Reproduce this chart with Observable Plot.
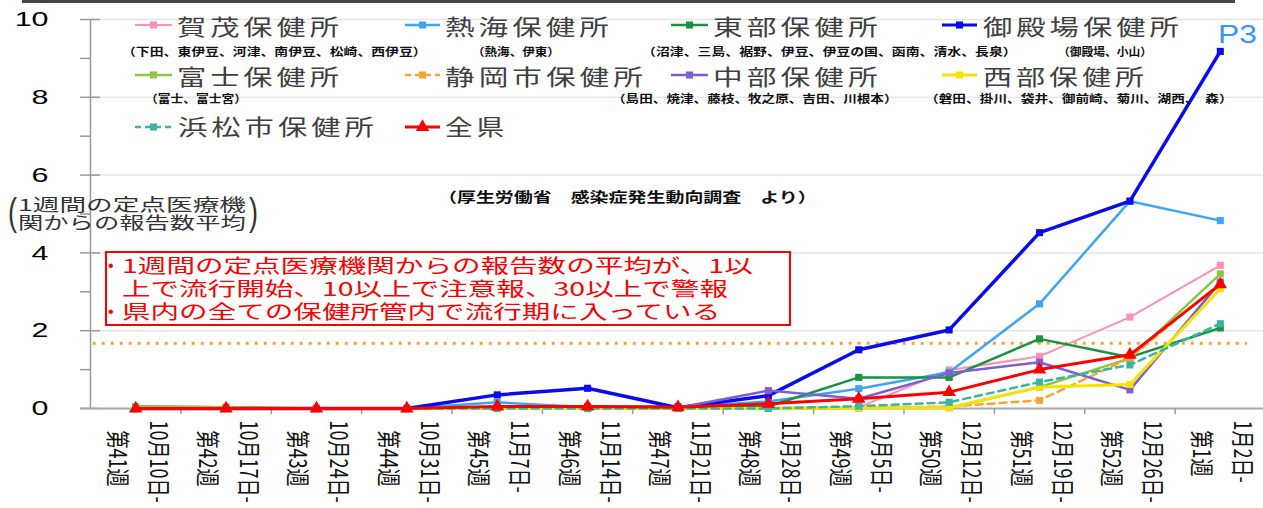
<!DOCTYPE html>
<html><head><meta charset="utf-8">
<script src="https://cdn.jsdelivr.net/npm/d3@7"></script>
<script src="https://cdn.jsdelivr.net/npm/@observablehq/plot@0.6"></script>
<style>
html,body{margin:0;padding:0;background:#fff;}
#chart{width:1263px;height:508px;overflow:hidden;position:relative;background:#fff;}
</style>
</head><body><div id="chart"></div>
<script>
// ---- data ----
const weeks = ["第41週","第42週","第43週","第44週","第45週","第46週","第47週","第48週","第49週","第50週","第51週","第52週","第1週"];
const dates = ["10月10日-","10月17日-","10月24日-","10月31日-","11月7日-","11月14日-","11月21日-","11月28日-","12月5日-","12月12日-","12月19日-","12月26日-","1月2日-"];
const names = ["賀茂保健所","熱海保健所","東部保健所","御殿場保健所","富士保健所","静岡市保健所","中部保健所","西部保健所","浜松市保健所","全県"];
const subs = ["（下田、東伊豆、河津、南伊豆、松崎、西伊豆）","（熱海、伊東）","（沼津、三島、裾野、伊豆、伊豆の国、函南、清水、長泉）","（御殿場、小山）","（富士、富士宮）","","（島田、焼津、藤枝、牧之原、吉田、川根本）","（磐田、掛川、袋井、御前崎、菊川、湖西、　森）","",""];
const kamo      = [0, 0, 0, 0, 0, 0, 0, 0.02, 0.03, 0.99, 1.34, 2.35, 3.68];
const atami     = [0, 0, 0, 0, 0.16, 0.03, 0.03, 0.18, 0.51, 0.93, 2.69, 5.33, 4.83];
const tobu      = [0.05, 0.03, 0, 0, 0.03, 0.05, 0.05, 0.05, 0.8, 0.8, 1.79, 1.32, 2.07];
const gotemba   = [0, 0, 0, 0, 0.35, 0.52, 0.02, 0.33, 1.51, 2.02, 4.52, 5.33, 9.18];
const fuji      = [0.05, 0.03, 0, 0, 0, 0, 0, 0, 0.01, 0.02, 0.55, 1.29, 3.46];
const shizuoka  = [0, 0, 0, 0, 0, 0, 0, 0, 0.02, 0.05, 0.21, 1.3, 3.22];
const chubu     = [0, 0, 0, 0, 0.03, 0.03, 0.02, 0.46, 0.25, 0.91, 1.19, 0.48, 3.25];
const seibu     = [0, 0, 0, 0, 0, 0, 0, 0, 0.02, 0.02, 0.55, 0.62, 3.08];
const hamamatsu = [0, 0, 0, 0, 0, 0, 0, 0, 0.06, 0.16, 0.68, 1.12, 2.18];
const zenken    = [0, 0, 0, 0, 0.05, 0.05, 0.03, 0.12, 0.25, 0.42, 1.0, 1.38, 3.19];
const threshold = [1.68];
const yTicks = [0,1,2,3,4,5,6,7,8,9,10];
const yLabels = [0,2,4,6,8,10];
const endLabel = "P3";
const sourceNote = "（厚生労働省　感染症発生動向調査　より）";
const yTitle = ["1週間の定点医療機", "関からの報告数平均"];
const noteLines = ["1週間の定点医療機関からの報告数の平均が、1以", "上で流行開始、10以上で注意報、30以上で警報", "県内の全ての保健所管内で流行期に入っている"];

// ---- styles ----
const values = [kamo, atami, tobu, gotemba, fuji, shizuoka, chubu, seibu, hamamatsu, zenken];
const colors = ["#ff8fb4", "#3da5f4", "#18933f", "#0a0af0", "#8dc63f", "#f7a530", "#7d5fd0", "#f5e400", "#3bb4a4", "#ff0000"];
const dashes = [undefined, undefined, undefined, undefined, undefined, "7,5", undefined, undefined, "7,5", undefined];
const widths = [2, 2.5, 2.5, 3.5, 2.5, 2.5, 2.5, 3, 2.5, 3];
const symbols = ["square","square","square","square","square","square","square","square","square","triangle"];
const radii = [4,4,4,4,4,4,4,4,4,5];

const table = values.flatMap((vals, k) => vals.map((v, i) => ({k, i, v})));
const idx = d3.range(weeks.length);

const marks = [
  Plot.ruleY(yLabels.filter(d => d > 0), {y: d => d, stroke: "#e6e6e6", strokeWidth: 1.5}),
  Plot.ruleY(threshold, {y: d => d, x1: 0.03, x2: 12.8, stroke: "#f7a530", strokeWidth: 3, strokeDasharray: "3,6"}),
  Plot.ruleX([0], {y1: 0, y2: 10, stroke: "#999", strokeWidth: 1.5}),
  Plot.ruleY(yTicks, {y: d => d, x1: -0.11, x2: 0, stroke: "#999", strokeWidth: 1.5}),
  Plot.ruleY(yLabels, {y: d => d, x1: 0, x2: 0.11, stroke: "#999", strokeWidth: 1.5}),
  Plot.ruleY([0], {y: d => d, x1: -0.11, x2: 13, stroke: "#a8a8a8", strokeWidth: 2}),
  Plot.ruleX(d3.range(1, 13), {x: d => d, y1: 0, y2: -0.16, stroke: "#999", strokeWidth: 1.5}),
  Plot.text(yLabels, {y: d => d, text: d => String(d), frameAnchor: "left", dx: -42, textAnchor: "end", fontSize: 21, fill: "#000", fontFamily: "Liberation Sans"}),
  Plot.text(idx, {x: i => i + 0.5, text: i => dates[i], frameAnchor: "bottom", rotate: 90, textAnchor: "start", dx: 14, dy: 12, fontSize: 18, fill: "#111", fontFamily: "Noto Sans CJK JP"}),
  Plot.text(idx, {x: i => i + 0.5, text: i => weeks[i], frameAnchor: "bottom", rotate: 90, textAnchor: "start", dx: -27, dy: 22, fontSize: 18, fill: "#111", fontFamily: "Noto Sans CJK JP"})
];
values.forEach((vals, k) => {
  const rows = table.filter(d => d.k === k);
  marks.push(Plot.line(rows, {x: d => d.i + 0.5, y: "v", stroke: colors[k], strokeWidth: widths[k], strokeDasharray: dashes[k]}));
  marks.push(Plot.dot(rows, {x: d => d.i + 0.5, y: "v", symbol: symbols[k], r: radii[k], fill: colors[k], stroke: "none"}));
});

const chart = Plot.plot({
  width: 1263, height: 508,
  marginLeft: 90, marginRight: 0, marginTop: 19, marginBottom: 100,
  x: {domain: [0, 13], range: [90, 1265], axis: null},
  y: {domain: [0, 10], range: [408, 19], axis: null},
  style: {fontFamily: "'Noto Sans CJK JP', sans-serif", background: "#fff", overflow: "visible"},
  marks
});
document.getElementById("chart").appendChild(chart);

// stretch axis texts horizontally like the reference
function stretch(el, sx, sy) {
  const tr = el.getAttribute("transform");
  if (tr) el.setAttribute("transform", tr + ` scale(${sx},${sy})`);
  else {
    const x = +el.getAttribute("x") || 0, y = +el.getAttribute("y") || 0;
    el.setAttribute("transform", `translate(${x},${y}) scale(${sx},${sy}) translate(${-x},${-y})`);
  }
}
const svg = d3.select(chart);
svg.selectAll("g").filter(function(){ return (this.getAttribute("font-family")||"").includes("Liberation"); })
  .selectAll("text").each(function(){ stretch(this, 1.45, 1); });
svg.selectAll("g").filter(function(){ return (this.getAttribute("font-family")||"").includes("Noto Sans CJK"); })
  .selectAll("text").each(function(){ stretch(this, 1, 1.35); });

// ---- annotations / legend ----
const ov = svg.append("g").attr("font-family", "'Noto Sans CJK JP', sans-serif").attr("text-anchor", "start");
ov.append("rect").attr("x", 22).attr("y", 0).attr("width", 1213).attr("height", 3).attr("fill", "#444");
function fit(str, x, y, w, o = {}) {
  const t = ov.append("text").attr("font-size", o.size || 20).attr("fill", o.fill || "#333")
    .attr("font-weight", o.weight || 400).attr("text-anchor", "start").text(str);
  if (o.ls) t.attr("letter-spacing", o.ls);
  if (o.family) t.attr("font-family", o.family);
  let sx = o.sx;
  if (sx == null) { const L = t.node().getComputedTextLength(); sx = w / L; }
  t.attr("transform", `translate(${x},${y}) scale(${sx},1)`);
  return sx;
}
const legendPos = [
  {m: [135,172], tx: 177, tw: 166, row: 0, sx: 122, sw: 305},
  {m: [405,440], tx: 445, tw: 168, row: 0, sx: 472, sw: 88},
  {m: [671,708], tx: 713, tw: 169, row: 0, sx: 642, sw: 375},
  {m: [942,977], tx: 983, tw: 200, row: 0, sx: 1058, sw: 94},
  {m: [135,172], tx: 177, tw: 166, row: 1, sx: 145, sw: 102},
  {m: [405,440], tx: 445, tw: 202, row: 1},
  {m: [671,708], tx: 713, tw: 169, row: 1, sx: 612, sw: 286},
  {m: [942,977], tx: 983, tw: 165, row: 1, sx: 925, sw: 308},
  {m: [135,172], tx: 178, tw: 200, row: 2},
  {m: [405,440], tx: 445, tw: 63, row: 2}
];
const rowMarkY = [25, 75, 127], rowTextY = [35, 85, 135], rowSubY = [56, 103];
legendPos.forEach((p, k) => {
  const y = rowMarkY[p.row];
  ov.append("line").attr("x1", p.m[0]).attr("x2", p.m[1]).attr("y1", y).attr("y2", y)
    .attr("stroke", colors[k]).attr("stroke-width", Math.min(widths[k], 3)).attr("stroke-dasharray", dashes[k] ? "6,4" : null);
  const sym = symbols[k] === "triangle" ? d3.symbolTriangle : d3.symbolSquare;
  ov.append("path").attr("d", d3.symbol(sym, radii[k] * radii[k] * Math.PI)())
    .attr("transform", `translate(${(p.m[0] + p.m[1]) / 2},${y})`).attr("fill", colors[k]);
  fit(names[k], p.tx, rowTextY[p.row], p.tw, {size: 22, fill: "#404040", ls: 3});
  if (subs[k]) fit(subs[k], p.sx, rowSubY[p.row], p.sw, {size: 11, fill: "#111", weight: 700});
});

// source note
fit(sourceNote, 438, 202, 379, {size: 14, fill: "#111", weight: 700});
// y title with brackets
fit(yTitle[0], 18, 211, 228, {size: 16.5, fill: "#333"});
fit(yTitle[1], 18, 229, 228, {size: 16.5, fill: "#333"});
fit("(", 8, 225, 9, {size: 38, fill: "#333", family: "Liberation Sans"});
fit(")", 249, 225, 9, {size: 38, fill: "#333", family: "Liberation Sans"});
// red note box
ov.append("rect").attr("x", 106).attr("y", 252).attr("width", 684).attr("height", 73)
  .attr("fill", "#fff").attr("stroke", "#ff0000").attr("stroke-width", 2);
const nsx = fit(noteLines[0], 122, 273, 631, {size: 19, fill: "#ff0000"});
fit(noteLines[1], 122, 296, 0, {size: 19, fill: "#ff0000", sx: nsx});
fit(noteLines[2], 122, 319, 0, {size: 19, fill: "#ff0000", sx: nsx});
fit("•", 108, 271, 0, {size: 16, fill: "#ff0000", sx: 1, family: "Liberation Sans"});
fit("•", 108, 317, 0, {size: 16, fill: "#ff0000", sx: 1, family: "Liberation Sans"});
// end label
fit(endLabel, 1218, 43, 39, {size: 25, fill: "#3399ff", family: "Liberation Sans"});
</script></body></html>
